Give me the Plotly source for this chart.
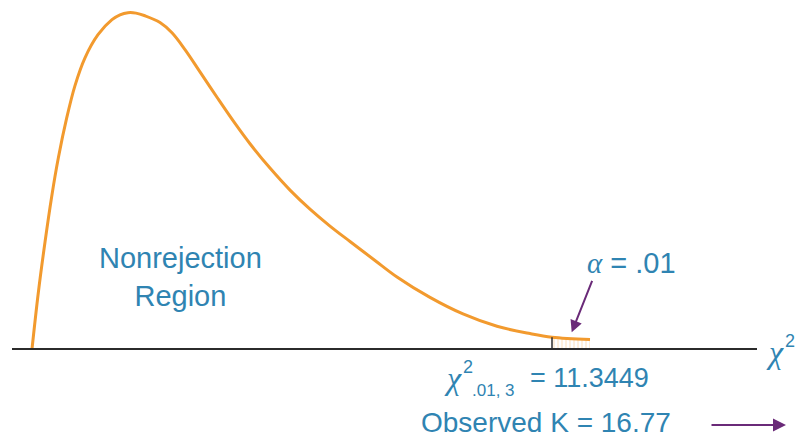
import plotly.graph_objects as go

# Chi-square density (df = 3) traced as points along the curve
chi_x = [0.0, 0.137, 0.284, 0.430, 0.574, 0.757, 0.938, 1.156, 1.440, 1.745,
         1.920, 2.094, 2.269, 2.465, 2.793, 3.054, 3.338, 3.665, 4.058, 4.429,
         4.756, 5.192, 5.629, 6.065, 6.501, 6.938, 7.483, 7.963, 8.683, 9.403,
         10.145, 10.865, 11.3449, 12.174]
density = [0.0, 0.0400, 0.0764, 0.1089, 0.1363, 0.1649, 0.1880, 0.2078, 0.2243, 0.2350,
           0.2385, 0.2400, 0.2397, 0.2378, 0.2330, 0.2257, 0.2137, 0.1978, 0.1786, 0.1610,
           0.1465, 0.1291, 0.1134, 0.0998, 0.0877, 0.0767, 0.0632, 0.0514, 0.0368, 0.0250,
           0.0162, 0.0110, 0.0084, 0.0067]

CRITICAL = 11.3449
ALPHA = ".01"
OBSERVED_K = 16.77

ORANGE = "#f29a2e"
TEAL = "#2f84b2"
PURPLE = "#6a2a78"
SANS = "Liberation Sans, Arial, sans-serif"
SERIF = "Liberation Serif, Times New Roman, serif"

W, H = 797, 443


def px(x):
    return x / W


def py(y):
    return 1 - y / H


def label(x, y, text, size, family=SANS, xanchor="center", **kw):
    return dict(x=px(x), y=py(y), xref="paper", yref="paper", text=text,
                showarrow=False, xanchor=xanchor, yanchor="middle",
                font=dict(family=family, size=size, color=TEAL), **kw)


tail_x = [x for x in chi_x if x >= CRITICAL]
tail_y = [d for x, d in zip(chi_x, density) if x >= CRITICAL]
crit_height = density[chi_x.index(CRITICAL)]

fig = go.Figure()

# rejection region (upper tail) hatched
fig.add_trace(go.Scatter(
    x=tail_x, y=tail_y, mode="lines", line=dict(width=0),
    fill="tozeroy", fillcolor="rgba(0,0,0,0)",
    fillpattern=dict(shape="|", fgcolor="rgba(242,154,46,0.55)",
                     bgcolor="rgba(255,255,255,0)", size=4, solidity=0.3),
    hoverinfo="skip", showlegend=False))

# density curve
fig.add_trace(go.Scatter(
    x=chi_x, y=density, mode="lines",
    line=dict(color=ORANGE, width=3, shape="spline", smoothing=1.0),
    hoverinfo="skip", showlegend=False))

# horizontal axis line
fig.add_shape(type="line", xref="paper", yref="y",
              x0=px(12), x1=px(757), y0=0, y1=0,
              line=dict(color="#2b2b2b", width=2))
# critical value tick
fig.add_shape(type="line", xref="x", yref="y",
              x0=CRITICAL, x1=CRITICAL, y0=0, y1=crit_height,
              line=dict(color="#2b2b2b", width=1.5))

ann = [
    label(180, 277, "Nonrejection<br>Region", 29, align="center"),
    # alpha label and arrow
    label(631, 263, f"<span style='font-family:{SERIF}'><i>α</i></span> = {ALPHA}", 29),
    dict(x=tail_x[0] + 0.43, y=tail_y[0] + 0.0035, xref="x", yref="y",
         ax=21, ay=-53, text="", showarrow=True, arrowhead=2,
         arrowsize=1.2, arrowwidth=2, arrowcolor=PURPLE),
    # critical value label
    label(453, 378, "<i>χ</i>", 32, family=SERIF),
    label(468, 367, "2", 18),
    label(470, 390, ".01, 3", 17, xanchor="left"),
    label(528, 378, f"= {CRITICAL}", 27, xanchor="left"),
    # observed statistic
    label(546, 422, f"Observed K = {OBSERVED_K}", 28),
    dict(x=px(786), y=py(425), xref="paper", yref="paper",
         ax=-76, ay=0, text="", showarrow=True, arrowhead=2,
         arrowsize=1.3, arrowwidth=2, arrowcolor=PURPLE),
    # axis title
    label(764, 352, "<i>χ</i>", 32, family=SERIF, xanchor="left"),
    label(783, 341, "2", 18, xanchor="left"),
]

x_scale = (552 - 32) / CRITICAL
y_scale = (349 - 12.7) / 0.2400

fig.update_layout(
    width=W, height=H,
    margin=dict(l=0, r=0, t=0, b=0),
    paper_bgcolor="white", plot_bgcolor="white",
    xaxis=dict(range=[-32 / x_scale, (W - 32) / x_scale], visible=False, fixedrange=True),
    yaxis=dict(range=[(349 - H) / y_scale, 349 / y_scale], visible=False, fixedrange=True),
    annotations=ann,
    showlegend=False,
)

fig.write_html("out.html")
